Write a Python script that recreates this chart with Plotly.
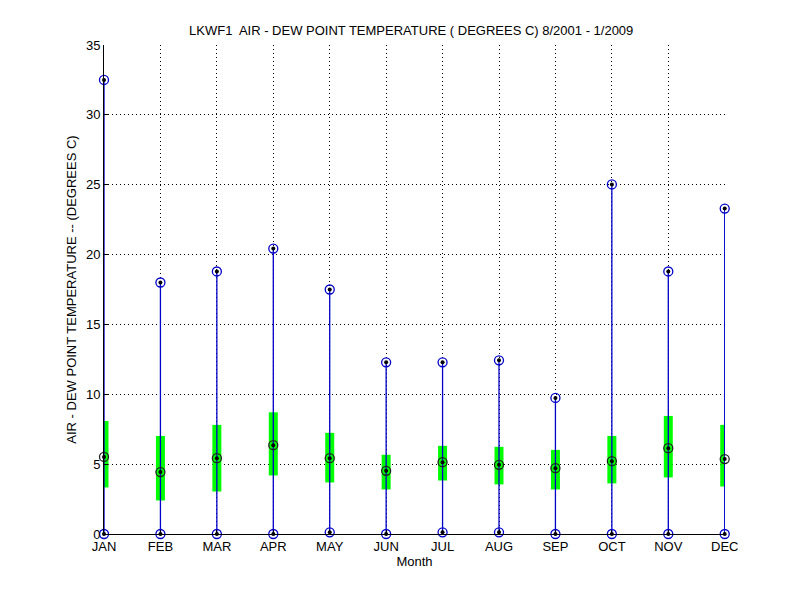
import plotly.graph_objects as go

months = ['JAN', 'FEB', 'MAR', 'APR', 'MAY', 'JUN',
          'JUL', 'AUG', 'SEP', 'OCT', 'NOV', 'DEC']
min_vals = [0.0, 0.0, 0.0, 0.0, 0.12, 0.0, 0.12, 0.12, 0.0, 0.0, 0.0, 0.0]
q1_vals = [3.33, 2.4, 3.04, 4.19, 3.69, 3.19, 3.83, 3.55, 3.19, 3.62, 4.05, 3.4]
median_vals = [5.52, 4.43, 5.43, 6.36, 5.43, 4.52, 5.14, 4.95, 4.71, 5.21, 6.14, 5.36]
q3_vals = [8.09, 7.02, 7.81, 8.71, 7.24, 5.67, 6.31, 6.24, 6.02, 7.02, 8.45, 7.81]
max_vals = [32.5, 18.0, 18.79, 20.43, 17.5, 12.29, 12.29, 12.43, 9.74, 25.02, 18.79, 23.29]

x = list(range(1, len(months) + 1))
FONT = 'Liberation Sans, Arial, sans-serif'
BLUE = '#0000c8'

fig = go.Figure()

# green boxes (q1..q3) drawn as thick error bars so they are not clipped at the edges
mid = [(a + b) / 2 for a, b in zip(q1_vals, q3_vals)]
half = [(b - a) / 2 for a, b in zip(q1_vals, q3_vals)]
fig.add_trace(go.Scatter(x=x, y=mid, mode='markers', marker=dict(size=0.1, opacity=0),
                         error_y=dict(type='data', array=half, arrayminus=half, visible=True,
                                      color='#00ff00', thickness=9, width=0),
                         cliponaxis=False, showlegend=False, hoverinfo='skip'))

# whiskers from min to max
wx, wy = [], []
for xi, lo, hi in zip(x, min_vals, max_vals):
    wx += [xi, xi, None]
    wy += [lo, hi, None]
fig.add_trace(go.Scatter(x=wx, y=wy, mode='lines', line=dict(color=BLUE, width=1.3),
                         showlegend=False, hoverinfo='skip'))

# min / max markers
for vals in (min_vals, max_vals):
    fig.add_trace(go.Scatter(x=x, y=vals, mode='markers',
                             marker=dict(symbol='circle-open', size=9, color=BLUE, line=dict(width=1.3)),
                             showlegend=False, cliponaxis=False))
    fig.add_trace(go.Scatter(x=x, y=vals, mode='markers',
                             marker=dict(symbol='circle', size=4, color='black'),
                             showlegend=False, cliponaxis=False))

# median
fig.add_trace(go.Scatter(x=x, y=median_vals, mode='markers',
                         marker=dict(symbol='circle-open', size=9, color='#202020', line=dict(width=1.3)),
                         showlegend=False, cliponaxis=False))
fig.add_trace(go.Scatter(x=x, y=median_vals, mode='markers',
                         marker=dict(symbol='circle', size=4, color='black'),
                         showlegend=False, cliponaxis=False))

fig.update_layout(
    width=800, height=600,
    margin=dict(l=96, r=83, t=37, b=74),
    paper_bgcolor='white', plot_bgcolor='white',
    font=dict(family=FONT, size=13, color='black'),
    title=dict(text='LKWF1  AIR - DEW POINT TEMPERATURE ( DEGREES C) 8/2001 - 1/2009',
               x=0.504, xanchor='center', y=0.963, yanchor='middle',
               font=dict(family=FONT, size=13, color='black')),
    xaxis=dict(range=[1, 12.005], tickvals=x, ticktext=months,
               showgrid=True, gridcolor='black', griddash='1px,3px', gridwidth=1,
               showline=True, linecolor='black', linewidth=1,
               ticks='inside', ticklen=4, tickcolor='black',
               zeroline=False, layer='above traces',
               title=dict(text='Month', standoff=1, font=dict(size=13))),
    yaxis=dict(range=[0, 35], tickvals=list(range(0, 36, 5)),
               showgrid=True, gridcolor='black', griddash='1px,3px', gridwidth=1,
               showline=True, linecolor='black', linewidth=1,
               ticks='inside', ticklen=4, tickcolor='black',
               zeroline=False,
               title=dict(text='AIR - DEW POINT TEMPERATURE -- (DEGREES C)', standoff=6,
                          font=dict(size=13))),
)

fig.write_html("out.html")
